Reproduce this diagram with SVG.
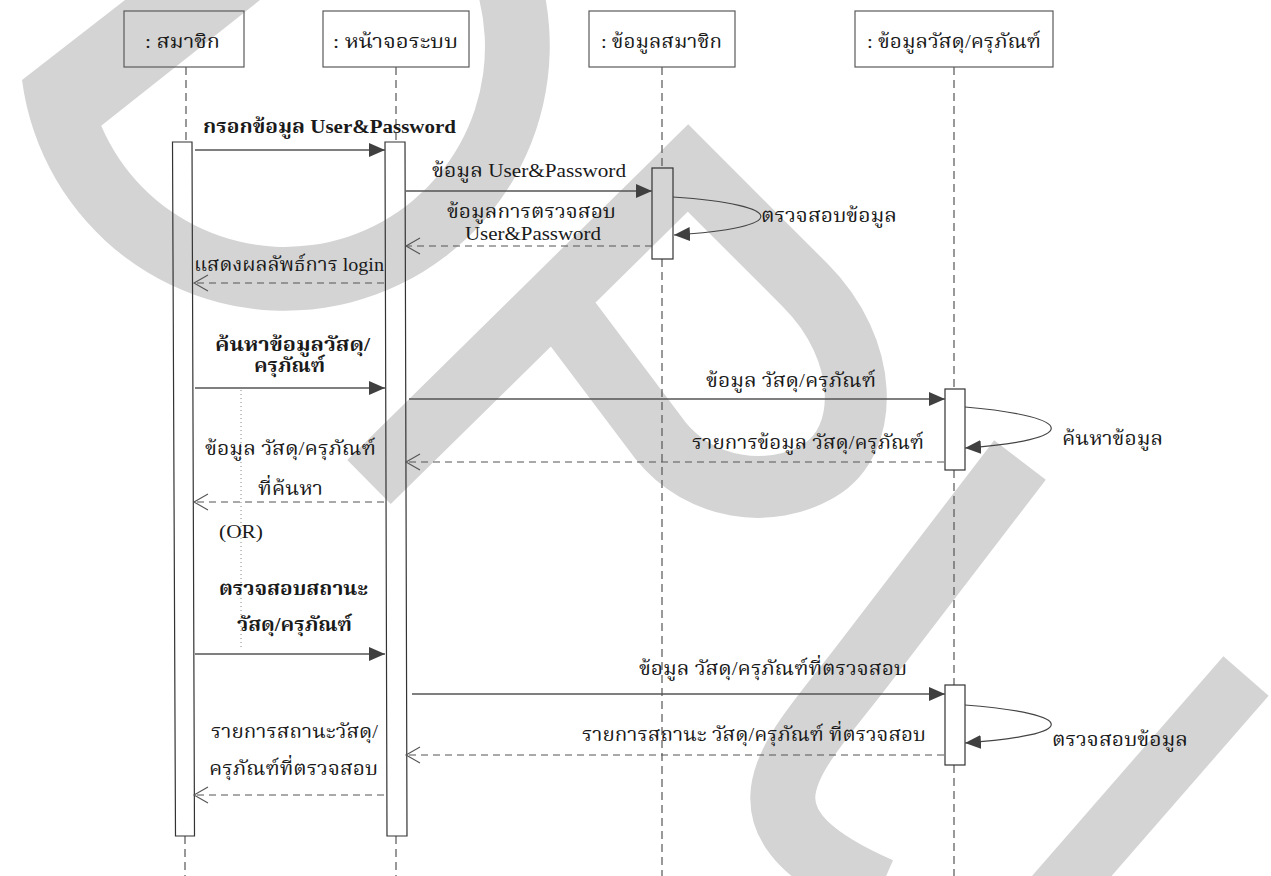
<svg xmlns="http://www.w3.org/2000/svg" width="1271" height="876" viewBox="0 0 1271 876">
<defs>
<style>
.wm{fill:none;stroke:#d4d4d4;stroke-linecap:butt;stroke-linejoin:miter}
.wmf{fill:#d4d4d4;stroke:none}
.hdr{fill:none;stroke:#5a5a5a;stroke-width:1.2}
.life{stroke:#555;stroke-width:1.2;stroke-dasharray:8 5;fill:none}
.act{fill:none;stroke:#333;stroke-width:1.2}
.msg{stroke:#555;stroke-width:1.3;fill:none}
.ret{stroke:#555;stroke-width:1.2;stroke-dasharray:7 5;fill:none}
.self{stroke:#444;stroke-width:1.2;fill:none}
.t{font-family:"Liberation Serif","Noto Serif Thai","Noto Sans Thai","Tlwg Typo",serif;font-size:19px;fill:#1a1a1a}
.b{font-weight:bold}
</style>
<marker id="fa" markerUnits="userSpaceOnUse" markerWidth="17" markerHeight="16" refX="16" refY="8" orient="auto"><path d="M0,1 L16,8 L0,15 z" fill="#404040"/></marker>
<marker id="oa" markerUnits="userSpaceOnUse" markerWidth="17" markerHeight="18" refX="15" refY="9" orient="auto"><path d="M1,1 L15,9 L1,17" fill="none" stroke="#555" stroke-width="1.1"/></marker>
</defs>
<rect width="1271" height="876" fill="#fff"/>
<g id="watermark">
<path class="wmf" d="M 125,0 L 22,80 A 265 265 0 1 0 545.8,0 L 479.4,0 A 200 200 0 0 1 101.2,125.8 L 260,0 Z"/>
<path class="wm" stroke-width="62" d="M 369,482 L 688,168 L 805,285 C 870,350 870,440 820,470 C 770,500 700,490 660,440 L 560,307"/>
<path class="wm" stroke-width="65" d="M 1020,460 L 860,669 C 790,760 720,820 880,890"/>
<path class="wm" stroke-width="60" d="M 1246,676 L 1050,901"/>
</g>
<g id="lifelines">
<path class="life" d="M186,67 V142 M185,836 V876"/>
<path class="life" d="M396,67 V142 M396,836 V876"/>
<path class="life" d="M662,67 V168 M662,259 V876"/>
<path class="life" d="M954,67 V389 M954,470 V685 M954,765 V876"/>
</g>
<g id="n-member">
<rect class="hdr" x="124" y="11" width="120" height="56"/>
<text class="t" x="145" y="48" font-size="21" textLength="75" lengthAdjust="spacingAndGlyphs">: สมาชิก</text>
<polygon class="act" points="172.5,142 192,142 194.5,836 175.5,836"/>
</g>
<g id="n-screen">
<rect class="hdr" x="323" y="11" width="146" height="56"/>
<text class="t" x="333" y="48" font-size="21" textLength="125" lengthAdjust="spacingAndGlyphs">: หน้าจอระบบ</text>
<polygon class="act" points="385,142 405,142 407,836 387,836"/>
</g>
<g id="n-memberdata">
<rect class="hdr" x="589" y="11" width="146" height="56"/>
<text class="t" x="601" y="48" font-size="21" textLength="121" lengthAdjust="spacingAndGlyphs">: ข้อมูลสมาชิก</text>
<rect class="act" x="652" y="168" width="21" height="91"/>
</g>
<g id="n-itemdata">
<rect class="hdr" x="855" y="11" width="198" height="56"/>
<text class="t" x="867" y="48" font-size="21" textLength="174" lengthAdjust="spacingAndGlyphs">: ข้อมูลวัสดุ/ครุภัณฑ์</text>
<rect class="act" x="945" y="389" width="20" height="81"/>
<rect class="act" x="945" y="685" width="20" height="80"/>
</g>
<g id="connectors">
<line class="msg" x1="195" y1="150" x2="385" y2="150" marker-end="url(#fa)"/>
<line class="msg" x1="406" y1="191" x2="652" y2="191" marker-end="url(#fa)"/>
<path class="self" d="M673,197 C790,205 790,228 674,235" marker-end="url(#fa)"/>
<line class="ret" x1="652" y1="246" x2="406" y2="246" marker-end="url(#oa)"/>
<line class="ret" x1="384" y1="283" x2="194" y2="283" marker-end="url(#oa)"/>
<line class="msg" x1="195" y1="388" x2="385" y2="388" marker-end="url(#fa)"/>
<line class="msg" x1="409" y1="399" x2="945" y2="399" marker-end="url(#fa)"/>
<path class="self" d="M965,407 C1080,417 1080,440 965,448" marker-end="url(#fa)"/>
<line class="ret" x1="944" y1="462" x2="406" y2="462" marker-end="url(#oa)"/>
<line class="ret" x1="384" y1="502" x2="194" y2="502" marker-end="url(#oa)"/>
<line stroke="#888" stroke-width="1" stroke-dasharray="1 3" x1="241" y1="390" x2="241" y2="650"/>
<line class="msg" x1="195" y1="654" x2="385" y2="654" marker-end="url(#fa)"/>
<line class="msg" x1="412" y1="694" x2="945" y2="694" marker-end="url(#fa)"/>
<path class="self" d="M965,705 C1080,714 1080,735 965,743" marker-end="url(#fa)"/>
<line class="ret" x1="944" y1="755" x2="406" y2="755" marker-end="url(#oa)"/>
<line class="ret" x1="384" y1="795" x2="194" y2="795" marker-end="url(#oa)"/>
</g>
<g id="labels">
<text class="t b" x="203" y="133" textLength="253" lengthAdjust="spacingAndGlyphs">กรอกข้อมูล User&amp;Password</text>
<text class="t" x="432" y="177" textLength="194" lengthAdjust="spacingAndGlyphs">ข้อมูล  User&amp;Password</text>
<text class="t" x="761" y="222" textLength="136" lengthAdjust="spacingAndGlyphs">ตรวจสอบข้อมูล</text>
<text class="t" x="447" y="218" textLength="169" lengthAdjust="spacingAndGlyphs">ข้อมูลการตรวจสอบ</text>
<text class="t" x="465" y="240" textLength="136" lengthAdjust="spacingAndGlyphs">User&amp;Password</text>
<text class="t" x="194" y="271" textLength="190" lengthAdjust="spacingAndGlyphs">แสดงผลลัพธ์การ login</text>
<text class="t b" x="215" y="351" textLength="155" lengthAdjust="spacingAndGlyphs">ค้นหาข้อมูลวัสดุ/</text>
<text class="t b" x="254" y="372" textLength="71" lengthAdjust="spacingAndGlyphs">ครุภัณฑ์</text>
<text class="t" x="706" y="387" textLength="170" lengthAdjust="spacingAndGlyphs">ข้อมูล วัสดุ/ครุภัณฑ์</text>
<text class="t" x="1062" y="445" textLength="101" lengthAdjust="spacingAndGlyphs">ค้นหาข้อมูล</text>
<text class="t" x="692" y="449" textLength="232" lengthAdjust="spacingAndGlyphs">รายการข้อมูล วัสดุ/ครุภัณฑ์</text>
<text class="t" x="205" y="455" textLength="171" lengthAdjust="spacingAndGlyphs">ข้อมูล วัสดุ/ครุภัณฑ์</text>
<text class="t" x="258" y="495" textLength="65" lengthAdjust="spacingAndGlyphs">ที่ค้นหา</text>
<text class="t" x="219" y="538" textLength="44" lengthAdjust="spacingAndGlyphs">(OR)</text>
<text class="t b" x="219" y="595" textLength="149" lengthAdjust="spacingAndGlyphs">ตรวจสอบสถานะ</text>
<text class="t b" x="237" y="631" textLength="115" lengthAdjust="spacingAndGlyphs">วัสดุ/ครุภัณฑ์</text>
<text class="t" x="639" y="675" textLength="268" lengthAdjust="spacingAndGlyphs">ข้อมูล วัสดุ/ครุภัณฑ์ที่ตรวจสอบ</text>
<text class="t" x="1052" y="746" textLength="136" lengthAdjust="spacingAndGlyphs">ตรวจสอบข้อมูล</text>
<text class="t" x="582" y="741" textLength="344" lengthAdjust="spacingAndGlyphs">รายการสถานะ วัสดุ/ครุภัณฑ์ ที่ตรวจสอบ</text>
<text class="t" x="211" y="738" textLength="167" lengthAdjust="spacingAndGlyphs">รายการสถานะวัสดุ/</text>
<text class="t" x="209" y="775" textLength="169" lengthAdjust="spacingAndGlyphs">ครุภัณฑ์ที่ตรวจสอบ</text>
</g>
</svg>
